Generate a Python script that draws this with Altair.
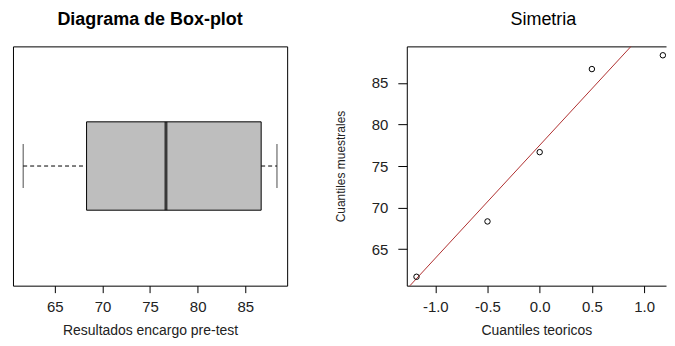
import altair as alt
import pandas as pd

# ---- data ----
sample_values = [61.67, 68.33, 76.67, 86.67, 88.33]      # Cuantiles muestrales
theoretical_q = [-1.18, -0.50, 0.00, 0.50, 1.18]          # Cuantiles teoricos
box_group = ["pre-test"]
box_min = [61.67]
box_q1 = [68.33]
box_median = [76.67]
box_q3 = [86.67]
box_max = [88.33]
qq_line_x = [-1.30, 1.30]
qq_line_y = [59.82, 95.18]
box_x_ticks = [65, 70, 75, 80, 85]
qq_x_ticks = [-1.0, -0.5, 0.0, 0.5, 1.0]
qq_y_ticks = [65, 70, 75, 80, 85]

FONT = "Liberation Sans"
TXT = "#222222"

box_df = pd.DataFrame({"grp": box_group, "lo": box_min, "q1": box_q1,
                       "med": box_median, "q3": box_q3, "hi": box_max})
qq_df = pd.DataFrame({"teo": theoretical_q, "mue": sample_values})
line_df = pd.DataFrame({"teo": qq_line_x, "mue": qq_line_y})

# ---------- left: boxplot ----------
bx_scale = alt.Scale(domain=[60.6, 89.4], nice=False, zero=False)
bx_axis = alt.Axis(values=box_x_ticks, title="Resultados encargo pre-test")
y_box = alt.Y("grp:N", axis=None,
              scale=alt.Scale(paddingInner=0, paddingOuter=0.854))

def bx(field):
    return alt.X(f"{field}:Q", scale=bx_scale, axis=bx_axis)

base = alt.Chart(box_df)
whisk_l = base.mark_rule(color="black", strokeDash=[4, 3], strokeWidth=1).encode(
    x=bx("lo"), x2="q1:Q", y=y_box)
whisk_r = base.mark_rule(color="black", strokeDash=[4, 3], strokeWidth=1).encode(
    x=bx("q3"), x2="hi:Q", y=y_box)
box = base.mark_bar(fill="#bebebe", stroke="black", strokeWidth=1).encode(
    x=bx("q1"), x2="q3:Q", y=y_box)
med = base.mark_tick(color="black", size=88.6, thickness=3).encode(x=bx("med"), y=y_box)
cap_l = base.mark_tick(color="black", size=44, thickness=1).encode(x=bx("lo"), y=y_box)
cap_r = base.mark_tick(color="black", size=44, thickness=1).encode(x=bx("hi"), y=y_box)

left = alt.layer(whisk_l, whisk_r, box, med, cap_l, cap_r).properties(
    width=275, height=240,
    title=alt.Title("Diagrama de Box-plot", fontSize=18, fontWeight="bold",
                    font=FONT, color="black", offset=17),
)

# ---------- right: QQ plot (cut at the right edge like the reference) ----------
qx_scale = alt.Scale(domain=[-1.273, 1.21], nice=False, zero=False)
qy_scale = alt.Scale(domain=[60.6, 89.4], nice=False, zero=False)
qx_axis = alt.Axis(values=qq_x_ticks, title="Cuantiles teoricos", domain=True,
                   domainColor="black",
                   labelExpr="(datum.value < 0 ? '-' : '') + format(abs(datum.value), '.1f')")
qx_top = alt.Axis(orient="top", labels=False, ticks=False, title="", domain=True,
                  domainColor="black")
qy_axis = alt.Axis(values=qq_y_ticks, title="Cuantiles muestrales", labelAngle=0,
                   titleFontSize=12, titlePadding=24, labelPadding=10, tickSize=9,
                   domain=True, domainColor="black")

qq_line = alt.Chart(line_df).mark_line(color="#b03030", strokeWidth=1, clip=True).encode(
    x=alt.X("teo:Q", scale=qx_scale, axis=qx_axis),
    y=alt.Y("mue:Q", scale=qy_scale, axis=qy_axis),
)
qq_pts = alt.Chart(qq_df).mark_point(shape="circle", filled=False, color="black",
                                     size=30, strokeWidth=1, clip=True, opacity=1).encode(
    x=alt.X("teo:Q", scale=qx_scale, axis=qx_top),
    y=alt.Y("mue:Q", scale=qy_scale, axis=qy_axis),
)
right = (
    alt.layer(qq_line, qq_pts)
    .resolve_axis(x="independent")
    .properties(
        width=260, height=240,
        view=alt.ViewBackground(stroke="transparent"),
        title=alt.Title("Simetria", fontSize=18, fontWeight="normal",
                        font=FONT, color="black", offset=17, dx=7),
    )
)

chart = (
    alt.hconcat(left, right, spacing=120, bounds="flush")
    .properties(padding={"left": 4, "top": 2, "right": 0, "bottom": 0})
    .configure_view(stroke="black", strokeWidth=1)
    .configure_axis(
        grid=False, domain=False, ticks=True, tickColor="black", tickSize=7,
        labelFont=FONT, labelFontSize=15, labelColor=TXT, labelPadding=7,
        titleFont=FONT, titleFontSize=14, titleFontWeight="normal", titleColor=TXT,
        titlePadding=9,
    )
    .configure_concat(spacing=120)
)

chart.save("out.html", embed_options={"renderer": "svg", "actions": False})
